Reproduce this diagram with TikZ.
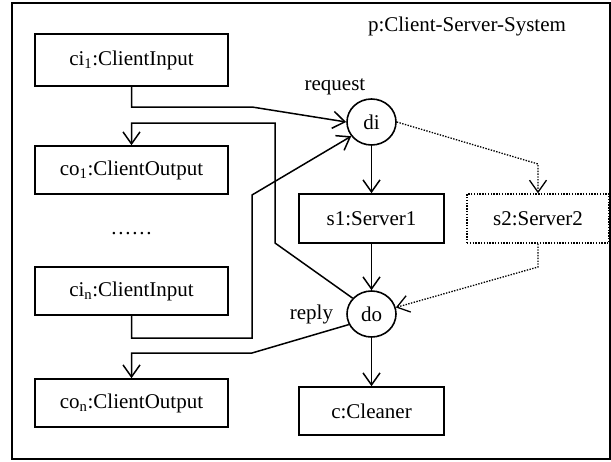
\documentclass[tikz,border=0pt]{standalone}
\usepackage{fontspec}
\setmainfont{Liberation Serif}
\usetikzlibrary{shapes.geometric,arrows.meta}
\begin{document}
\begin{tikzpicture}[x=1pt,y=-1pt,
  every node/.style={font=\fontsize{21}{24}\selectfont},
  box/.style={draw,line width=1.6pt,rectangle,inner sep=0pt},
  dbox/.style={draw,line width=1.4pt,dash pattern=on 1.4pt off 1.4pt,rectangle,inner sep=0pt},
  port/.style={draw,line width=1.6pt,ellipse,inner sep=0pt,minimum width=49pt,minimum height=46pt},
  conn/.style={line width=1.5pt,-{Straight Barb[length=12pt,width=17pt,line width=1.5pt]}},
  dconn/.style={line width=1.3pt,dash pattern=on 1.4pt off 1.4pt,-{Straight Barb[length=12pt,width=17pt,line width=1.3pt]}}]
\useasboundingbox (0,0) rectangle (611,461);
\node[draw,line width=1.8pt,minimum width=598pt,minimum height=456pt,inner sep=0pt] (frame) at (311,231) {};
\node (title) at (467,26) {p:Client-Server-System};

\node[box,minimum width=193pt,minimum height=52pt] (ci1) at (131.5,60) {ci\textsubscript{1}:ClientInput};
\node[box,minimum width=193pt,minimum height=48pt] (co1) at (131.5,170) {co\textsubscript{1}:ClientOutput};
\node (dots) at (131.5,234) {.\kern1.8pt.\kern1.8pt.\kern1.8pt.\kern1.8pt.\kern1.8pt.};
\node[box,minimum width=193pt,minimum height=48pt] (cin) at (131.5,291) {ci\textsubscript{n}:ClientInput};
\node[box,minimum width=193pt,minimum height=48pt] (con) at (131.5,403) {co\textsubscript{n}:ClientOutput};

\node[port] (di) at (371.5,122) {di};
\node[port] (do) at (371.5,314) {do};
\node (req) at (335,87) {request};
\node (rep) at (311.5,314) {reply};

\node[box,minimum width=145pt,minimum height=49pt] (s1) at (371.5,218.5) {s1:Server1};
\node[dbox,minimum width=142pt,minimum height=49pt] (s2) at (538,218.5) {s2:Server2};
\node[box,minimum width=145pt,minimum height=48pt] (c) at (371.5,411) {c:Cleaner};

\coordinate (a1) at (252,107);
\coordinate (b1) at (252,338);
\coordinate (b2) at (252,195);
\coordinate (e1) at (275,243);
\coordinate (e2) at (275,123);
\coordinate (f1) at (252,353);
\coordinate (d1) at (538,164);
\coordinate (d2) at (538,267);

\draw[conn] (ci1.south) |- (a1) -- (di.west);
\draw[conn] (cin.south) |- (b1) -- (b2) -- (di.215);
\draw[conn] (do.140) -- (e1) -- (e2) -| (co1.north);
\draw[conn] (do.205) -- (f1) -| (con.north);
\draw[conn] (di.south) -- (s1.north);
\draw[conn] (s1.south) -- (do.north);
\draw[conn] (do.south) -- (c.north);
\draw[dconn] (di.east) -- (d1) -- (s2.north);
\draw[dconn] (s2.south) -- (d2) -- (do.15);
\end{tikzpicture}
\end{document}
